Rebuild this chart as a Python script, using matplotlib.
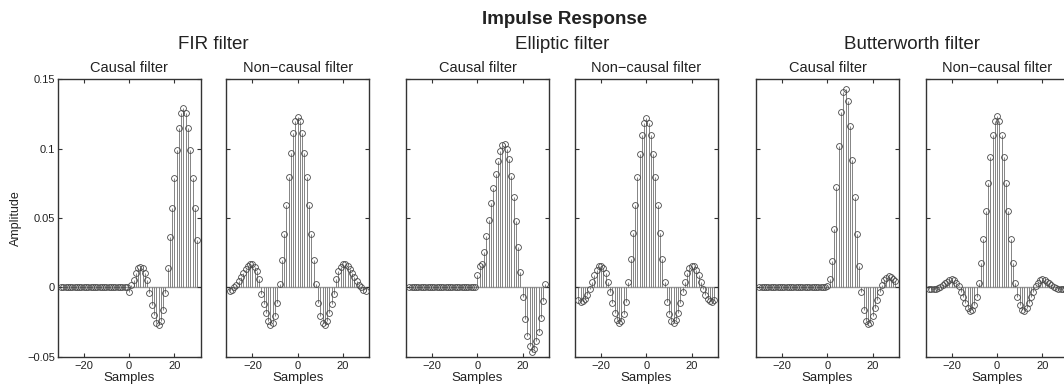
"""Impulse responses of causal and non-causal low-pass filters (stem plots)."""

import matplotlib.pyplot as plt
import numpy as np
from matplotlib.ticker import FixedFormatter, FixedLocator

plt.rcParams["font.family"] = ["Liberation Sans", "DejaVu Sans"]

samples = np.arange(-30, 31)

# values, n = -30 .. 30
fir_causal = [0.0] * 30 + [
    -0.003, 0.0015, 0.0055, 0.0105, 0.0137, 0.015, 0.0137, 0.010, 0.005, -0.004,
    -0.0125, -0.020, -0.026, -0.027, -0.0245, -0.0166, -0.004, 0.0137, 0.036, 0.057,
    0.079, 0.099, 0.115, 0.126, 0.129, 0.126, 0.115, 0.099, 0.079, 0.057, 0.034,
]
fir_noncausal = [
    -0.0026, -0.002, 0.0, 0.002, 0.0045, 0.0075, 0.0105, 0.013, 0.0155, 0.017,
    0.017, 0.015, 0.0115, 0.006, -0.0045, -0.012, -0.0185, -0.0245, -0.027, -0.026,
    -0.021, -0.011, 0.0024, 0.0195, 0.0385, 0.0595, 0.0795, 0.097, 0.111, 0.120,
    0.123,
    0.120, 0.111, 0.097, 0.0795, 0.0595, 0.0385, 0.0195, 0.0024, -0.011, -0.021,
    -0.026, -0.027, -0.0245, -0.0185, -0.012, -0.0045, 0.006, 0.0115, 0.015, 0.017,
    0.017, 0.0155, 0.013, 0.0105, 0.0075, 0.0045, 0.002, 0.0, -0.002, -0.0026,
]
elliptic_causal = [0.0] * 30 + [
    0.0092, 0.0152, 0.017, 0.0258, 0.037, 0.0489, 0.0609, 0.0715, 0.082, 0.091,
    0.0984, 0.1027, 0.1032, 0.0994, 0.0922, 0.0804, 0.065, 0.0479, 0.0291, 0.0108,
    -0.007, -0.0226, -0.035, -0.042, -0.0465, -0.0445, -0.039, -0.032, -0.0222, -0.0096,
    0.0027,
]
elliptic_noncausal = [
    -0.0094, -0.0108, -0.0101, -0.0082, -0.0053, -0.0014, 0.0038, 0.0089, 0.0128, 0.0152,
    0.0157, 0.0142, 0.0103, 0.0038, -0.0031, -0.011, -0.0183, -0.0238, -0.0258, -0.0245,
    -0.019, -0.0103, 0.0036, 0.0202, 0.0392, 0.0597, 0.0794, 0.0965, 0.110, 0.1187,
    0.1218,
    0.1187, 0.110, 0.0965, 0.0794, 0.0597, 0.0392, 0.0202, 0.0036, -0.0103, -0.019,
    -0.0245, -0.0258, -0.0238, -0.0183, -0.011, -0.0031, 0.0038, 0.0103, 0.0142, 0.0157,
    0.0152, 0.0128, 0.0089, 0.0038, -0.0014, -0.0053, -0.0082, -0.0101, -0.0108, -0.0094,
]
butter_causal = [0.0] * 30 + [
    0.0007, 0.0058, 0.0193, 0.042, 0.072, 0.102, 0.1266, 0.1406, 0.1433, 0.1343,
    0.1163, 0.0918, 0.0652, 0.0383, 0.0155, -0.0035, -0.0164, -0.0245, -0.0267, -0.026,
    -0.021, -0.015, -0.009, -0.0034, 0.0015, 0.0055, 0.0067, 0.008, 0.0072, 0.0058,
    0.0043,
]
butter_noncausal = [
    -0.0014, -0.0015, -0.0014, -0.001, -0.0003, 0.0006, 0.0018, 0.003, 0.0042, 0.0052,
    0.0058, 0.005, 0.0034, 0.0007, -0.003, -0.007, -0.011, -0.015, -0.017, -0.0165,
    -0.013, -0.0073, 0.0031, 0.0176, 0.0349, 0.0547, 0.0749, 0.0939, 0.1095, 0.1196,
    0.1235,
    0.1196, 0.1095, 0.0939, 0.0749, 0.0547, 0.0349, 0.0176, 0.0031, -0.0073, -0.013,
    -0.0165, -0.017, -0.015, -0.011, -0.007, -0.003, 0.0007, 0.0034, 0.005, 0.0058,
    0.0052, 0.0042, 0.003, 0.0018, 0.0006, -0.0003, -0.001, -0.0014, -0.0015, -0.0014,
]

group_titles = ["FIR filter", "Elliptic filter", "Butterworth filter"]
panel_titles = ["Causal filter", "Non\u2212causal filter"]
panels = [fir_causal, fir_noncausal, elliptic_causal, elliptic_noncausal,
          butter_causal, butter_noncausal]

yticks = [-0.05, 0, 0.05, 0.1, 0.15]
ytick_labels = ["\u22120.05", "0", "0.05", "0.1", "0.15"]
xticks = [-20, 0, 20]
xtick_labels = ["\u221220", "0", "20"]

W, H = 1064, 389
lefts = [57.7, 226.3, 406, 575, 756, 925.7]
ax_w = 143
ax_top, ax_bot = 79.3, 356.7


def main() -> None:
    fig = plt.figure(figsize=(W / 100, H / 100), dpi=100)
    for i, (left, values) in enumerate(zip(lefts, panels)):
        ax = fig.add_axes([left / W, 1 - ax_bot / H, ax_w / W, (ax_bot - ax_top) / H])
        ax.axhline(0, color="#9a9a9a", lw=1.0, zorder=1)
        ax.vlines(samples, 0, values, color="#707070", lw=0.6, zorder=2)
        ax.plot(samples, values, "o", ms=4.2, mfc="none", mec="#4a4a4a", mew=0.6,
                zorder=3)
        ax.set_xlim(-31.5, 31.6)
        ax.set_ylim(-0.05, 0.15)
        ax.xaxis.set_major_locator(FixedLocator(xticks))
        ax.xaxis.set_major_formatter(FixedFormatter(xtick_labels))
        ax.yaxis.set_major_locator(FixedLocator(yticks))
        if i == 0:
            ax.yaxis.set_major_formatter(FixedFormatter(ytick_labels))
        else:
            ax.set_yticklabels([])
        ax.tick_params(direction="in", top=True, right=True, length=3, width=0.8,
                       labelsize=8, color="#333333", labelcolor="#222222")
        ax.tick_params(axis="x", pad=3)
        ax.tick_params(axis="y", pad=2)
        for sp in ax.spines.values():
            sp.set_color("#333333")
            sp.set_linewidth(1.0)
        ax.set_xlabel("Samples", fontsize=9.5, labelpad=1, color="#222222")
        fig.text((left + ax_w / 2) / W, 1 - 71.7 / H, panel_titles[i % 2],
                 ha="center", va="baseline", fontsize=10.5, color="#222222")

    for g, title in enumerate(group_titles):
        cx = (lefts[2 * g] + lefts[2 * g + 1] + ax_w) / 2
        fig.text(cx / W, 1 - 49.3 / H, title, ha="center", va="baseline",
                 fontsize=13.5, color="#222222")

    fig.text(565 / W, 1 - 24 / H, "Impulse Response", ha="center", va="baseline",
             fontsize=13.5, fontweight="bold", color="#222222")
    fig.text(15.5 / W, 1 - 218 / H, "Amplitude", rotation=90, ha="center",
             va="center", fontsize=9, color="#222222")

    fig.savefig("out.png", dpi=100)
    plt.close(fig)


if __name__ == "__main__":
    main()
